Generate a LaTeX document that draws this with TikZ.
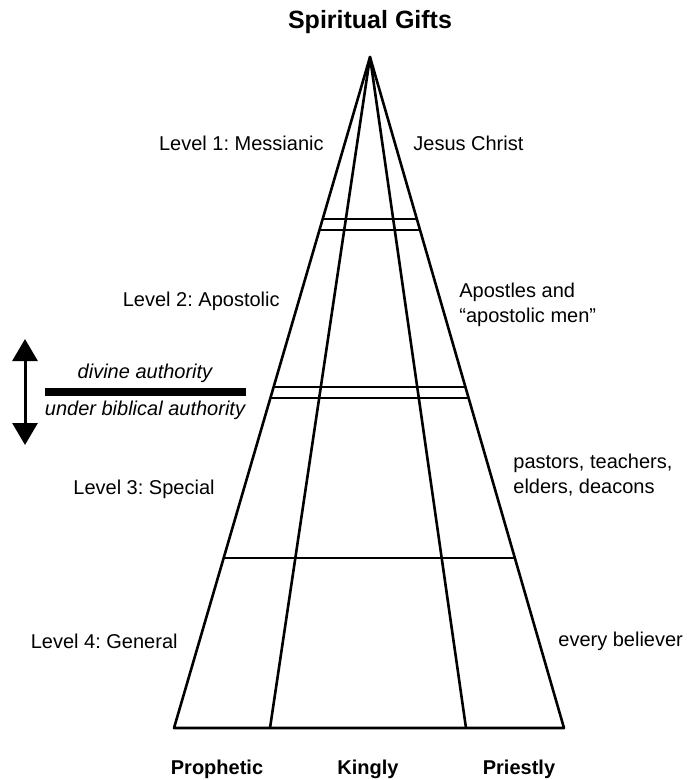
\documentclass[tikz,border=0pt]{standalone}
\usepackage{fontspec}
\setmainfont{Liberation Sans}
\usetikzlibrary{positioning, calc, arrows.meta}
\frenchspacing

\begin{document}
\begin{tikzpicture}[x=0.5pt, y=-0.5pt,
  >={Triangle[length=11pt, width=12.5pt]},
  ln/.style={line width=1.3pt, line join=round},
  lbl/.style={font=\fontsize{10}{12.3}\selectfont, inner sep=0pt, align=left},
  auth/.style={font=\itshape\fontsize{10}{12}\selectfont, inner sep=0pt},
  hd/.style={font=\bfseries\fontsize{10}{12}\selectfont, inner sep=0pt}]
\useasboundingbox (0,0) rectangle (686,780);
% pyramid
\coordinate (top) at (370,57);
\coordinate (bl) at (174,728);
\coordinate (il) at (270,728);
\coordinate (ir) at (466,728);
\coordinate (br) at (564,728);
\draw[ln] (bl) -- (top) -- (br) -- cycle;
\draw[ln] (il) -- (top) -- (ir);
% level boundaries
\foreach \t in {0.2414, 0.2578, 0.4918, 0.5082, 0.7466}
  \draw[ln] ($(top)!\t!(bl)$) -- ($(top)!\t!(br)$);

\node[font=\bfseries\fontsize{12.5}{15}\selectfont, inner sep=0pt] (title) at (370,22) {Spiritual Gifts};

\node[lbl, anchor=east] (lv1) at (324,143) {Level 1: Messianic};
\node[lbl, anchor=west] (jc) at (413,143) {Jesus Christ};
\node[lbl, anchor=east] (lv2) at (280,301) {Level 2: Apostolic};
\node[lbl, anchor=west] (ap) at (459,305) {Apostles and\\``apostolic men''};
\node[lbl, anchor=east] (lv3) at (215,489) {Level 3: Special};
\node[lbl, anchor=west] (pt) at (513,475) {pastors, teachers,\\elders, deacons};
\node[lbl, anchor=east] (lv4) at (178,641) {Level 4: General};
\node[lbl, anchor=west] (eb) at (558,641) {every believer};

% authority line
\coordinate (barl) at (45,392);
\coordinate (barr) at (246,392);
\draw[line width=4pt] (barl) -- (barr);
\node[auth] (div) at (145,373) {divine authority};
\node[auth] (bib) at (145,410) {under biblical authority};
\coordinate (aup) at (25,339);
\coordinate (adn) at (25,445);
\draw[line width=1.5pt, <->] (aup) -- (adn);

\node[hd] (pro) at (217,769) {Prophetic};
\node[hd] (kin) at (368,769) {Kingly};
\node[hd] (pri) at (519,769) {Priestly};
\end{tikzpicture}
\end{document}
